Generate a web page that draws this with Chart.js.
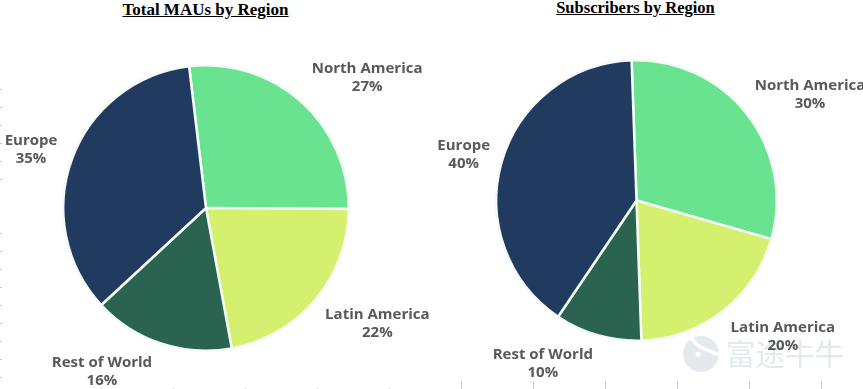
<!DOCTYPE html>
<html lang="en">
<head>
  <meta charset="UTF-8">
  <title>MAUs and Subscribers by Region</title>
  <script src="https://cdn.jsdelivr.net/npm/chart.js"></script>
  <style>
    html, body { margin: 0; padding: 0; background: #fff; }
    #page { position: relative; width: 863px; height: 389px; overflow: hidden; }
    .title {
      position: absolute;
      font: bold 17px "Liberation Serif", serif;
      color: #000;
      text-decoration: underline;
      white-space: nowrap;
      transform: translateX(-50%);
    }
    .pie { position: absolute; filter: blur(0.4px); }
    #watermark {
      position: absolute; left: 726px; top: 331px;
      font: 29.5px "Noto Sans CJK SC", sans-serif;
      color: #e4e9ed;
      white-space: nowrap;
      mix-blend-mode: multiply;
    }
    #logo { position: absolute; left: 683px; top: 334px; mix-blend-mode: multiply; }
    /* leftover axis ticks at the picture edges */
    .ticks { position: absolute; }
    .ticks.side { left: 0; width: 2px; background: repeating-linear-gradient(to bottom, #c4c4c4 0 1px, transparent 1px 18px); }
    .ticks.low { height: 1px; top: 388px; left: 101px; width: 300px; background: repeating-linear-gradient(to right, #c4c4c4 0 1px, transparent 1px 72px); }
    .ticks.tall { height: 8px; top: 381px; left: 461px; width: 402px; background: repeating-linear-gradient(to right, #c8c8c8 0 1px, transparent 1px 72px); }
  </style>
</head>
<body>
  <div id="page">
    <div class="ticks side" style="top:89px;height:91px"></div>
    <div class="ticks side" style="top:233px;height:145px"></div>
    <div class="ticks low"></div>
    <div class="ticks tall"></div>
    <div class="title" style="left:205.5px;top:0px">Total MAUs by Region</div>
    <div class="title" style="left:635.5px;top:-2px;font-size:16.5px">Subscribers by Region</div>
    <div class="pie" style="left:0;top:30px;width:430px;height:359px"><canvas id="mauChart"></canvas></div>
    <div class="pie" style="left:430px;top:30px;width:433px;height:359px"><canvas id="subChart"></canvas></div>
    <svg id="logo" width="40" height="38">
      <circle cx="18" cy="20" r="18" fill="#e4e9ed"/>
      <path d="M8 2 C12 12 20 15 37 21" fill="none" stroke="#fff" stroke-width="3.5"/>
      <circle cx="15" cy="20" r="2.5" fill="#fff"/>
    </svg>
    <div id="watermark">富途牛牛</div>
  </div>

  <script>
    // values
    const regions = ['North America', 'Latin America', 'Rest of World', 'Europe'];
    const mauShare = [27, 22, 16, 35];
    const subShare = [30, 20, 10, 40];
    const regionColors = ['#6ae391', '#d5f06f', '#2a6350', '#213a60'];

    // label shift from the outer middle of each slice
    const mauLabelShift = [[66, -24], [62, 24], [-59, 28], [-41, -9]];
    const subLabelShift = [[63, -19], [60, 26], [-55, 28], [-38, -7]];

    const sliceLabels = {
      id: 'sliceLabels',
      afterDatasetsDraw(chart, args, opts) {
        const ctx = chart.ctx;
        const arcs = chart.getDatasetMeta(0).data;
        ctx.save();
        ctx.font = 'bold 15px "Open Sans", sans-serif';
        ctx.fillStyle = '#595959';
        ctx.textAlign = 'center';
        ctx.textBaseline = 'middle';
        arcs.forEach((arc, i) => {
          const mid = (arc.startAngle + arc.endAngle) / 2;
          const x = arc.x + Math.cos(mid) * arc.outerRadius + opts.shift[i][0];
          const y = arc.y + Math.sin(mid) * arc.outerRadius + opts.shift[i][1];
          ctx.fillText(regions[i], x, y - 9);
          ctx.fillText(chart.data.datasets[0].data[i] + '%', x, y + 9);
        });
        ctx.restore();
      }
    };

    function makePie(id, values, rotation, shift, padding) {
      new Chart(document.getElementById(id), {
        type: 'pie',
        data: {
          labels: regions,
          datasets: [{ data: values, backgroundColor: regionColors, borderColor: '#f4fbf6', borderWidth: 2.5 }]
        },
        options: {
          responsive: true,
          maintainAspectRatio: false,
          animation: false,
          rotation: rotation,
          layout: { padding: padding },
          plugins: { legend: { display: false }, tooltip: { enabled: false }, sliceLabels: { shift: shift } }
        },
        plugins: [sliceLabels]
      });
    }

    makePie('mauChart', mauShare, -6.8, mauLabelShift, { left: 62, right: 80, top: 34, bottom: 37 });
    makePie('subChart', subShare, -2, subLabelShift, { left: 65, right: 85, top: 29, bottom: 47 });
  </script>
</body>
</html>
